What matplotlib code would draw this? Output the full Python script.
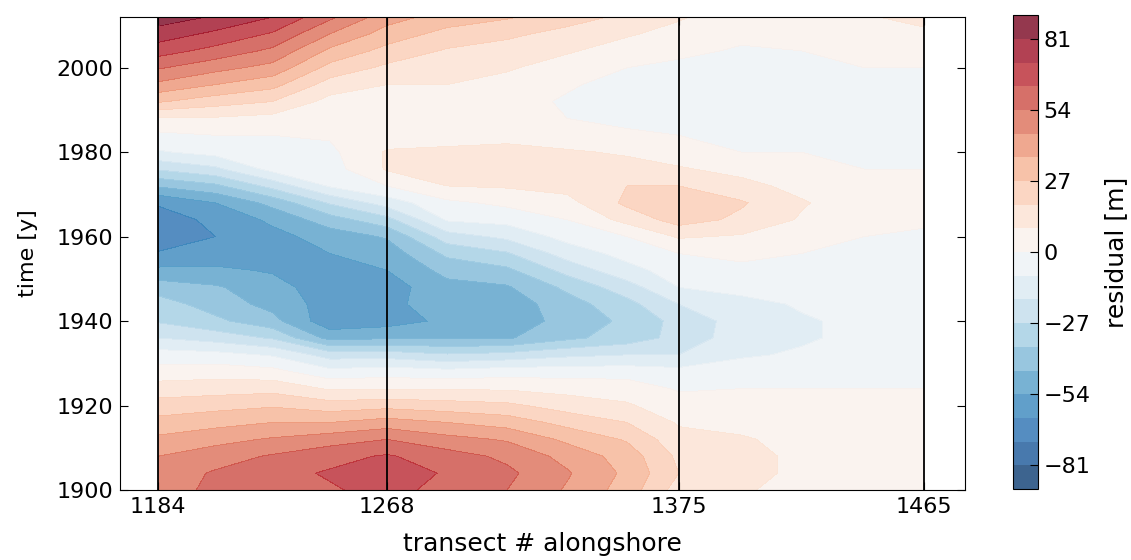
import numpy as np
import matplotlib
matplotlib.use("Agg")
import matplotlib.pyplot as plt

# transect numbers (grid columns) and years (grid rows)
transects = [1184, 1205, 1226, 1247, 1268, 1290, 1312, 1334, 1356, 1375, 1398, 1420, 1443, 1465]
years = list(range(1900, 2013, 4))
boundaries = [1184, 1268, 1375, 1465]

# residual [m] per transect, listed from 1900 to 2012 in 4-year steps
res_1184 = [50, 49, 45, 38, 30, 22, 13, 4, -5, -18, -28, -32, -40, -52, -62, -70, -67, -62, -44, -26, -10, -2, 8, 28, 43, 55, 67, 77, 86]
res_1205 = [56, 55, 50, 42, 33, 24, 14, 5, -6, -22, -34, -40, -44, -52, -60, -63, -61, -54, -38, -20, -6, 0, 8, 22, 36, 48, 60, 70, 80]
res_1226 = [60, 60, 55, 46, 36, 26, 15, 3, -10, -28, -42, -48, -50, -55, -58, -57, -52, -42, -24, -6, -3, 0, 6, 18, 30, 42, 52, 62, 72]
res_1247 = [62, 64, 60, 50, 36, 22, 8, -6, -22, -48, -60, -58, -60, -57, -54, -50, -40, -26, -8, -4, -2, 1, 2, 6, 14, 24, 34, 45, 56]
res_1268 = [66, 68, 64, 54, 40, 24, 8, -4, -22, -46, -58, -56, -58, -54, -50, -44, -30, -14, 0, 10, 10, 4, 2, 4, 9, 16, 24, 32, 40]
res_1290 = [60, 62, 58, 48, 36, 22, 8, -6, -26, -46, -52, -50, -48, -42, -34, -22, -8, -2, 9, 12, 11, 5, 2, 4, 9, 12, 17, 24, 32]
res_1312 = [54, 56, 52, 44, 32, 20, 8, -4, -24, -46, -50, -50, -46, -38, -28, -16, -6, 2, 10, 12, 12, 6, 3, 3, 6, 10, 14, 20, 28]
res_1334 = [44, 46, 42, 34, 24, 14, 6, -4, -20, -38, -42, -40, -34, -24, -14, -6, 0, 6, 12, 12, 10, 4, 0, -1, 1, 5, 10, 15, 22]
res_1356 = [32, 34, 32, 26, 18, 10, 5, -4, -18, -32, -34, -30, -22, -12, -6, 0, 12, 20, 18, 12, 8, 2, -3, -4, -3, 0, 5, 10, 16]
res_1375 = [14, 18, 16, 12, 8, 4, -1, -6, -18, -24, -24, -18, -9, -5, 0, 10, 22, 24, 18, 10, 4, 0, -3, -4, -4, -2, 2, 6, 10]
res_1398 = [10, 12, 12, 10, 6, 3, 0, -5, -10, -13, -14, -12, -6, -2, 2, 8, 16, 19, 12, 6, 0, -2, -3, -3, -3, -3, -1, 2, 4]
res_1420 = [6, 7, 7, 6, 4, 2, 0, -4, -8, -10, -10, -8, -4, -2, 0, 4, 8, 10, 6, 3, 0, -2, -3, -3, -3, -2, 0, 2, 4]
res_1443 = [4, 5, 5, 4, 2, 1, 0, -3, -5, -7, -7, -5, -3, -2, -1, 0, 2, 3, 2, 0, -1, -2, -2, -2, -2, 0, 2, 5, 8]
res_1465 = [3, 4, 4, 3, 2, 1, 0, -2, -4, -5, -5, -4, -3, -2, -2, -1, 1, 1, 1, 0, -1, -2, -2, -2, -2, 0, 3, 7, 12]

columns = [res_1184, res_1205, res_1226, res_1247, res_1268, res_1290, res_1312,
           res_1334, res_1356, res_1375, res_1398, res_1420, res_1443, res_1465]
Z = np.array(columns, dtype=float).T  # rows: years, cols: transects

levels = np.arange(-90, 91, 9)
cbar_ticks = [-81, -54, -27, 0, 27, 54, 81]

plt.rcParams["font.family"] = "DejaVu Sans"
plt.rcParams["font.size"] = 16

fig = plt.figure(figsize=(11.31, 5.6), dpi=100)
ax = fig.add_axes([0.1061, 0.125, 0.7471, 0.8446])
cax = fig.add_axes([0.8957, 0.1268, 0.0221, 0.846])

cs = ax.contourf(transects, years, Z, levels=levels, cmap="RdBu_r", alpha=0.8)
for b in boundaries:
    ax.axvline(b, color="black", linewidth=1.3)

ax.set_xlim(1170, 1480)
ax.set_ylim(1900, 2012)
ax.set_xticks(boundaries)
ax.set_yticks([1900, 1920, 1940, 1960, 1980, 2000])
ax.tick_params(direction="in", top=True, right=True, length=6, labelsize=16, pad=5)
ax.set_xlabel("transect # alongshore", fontsize=18, labelpad=11)
ax.set_ylabel("time [y]", fontsize=16, labelpad=13)

cb = fig.colorbar(cs, cax=cax, ticks=cbar_ticks)
cb.ax.tick_params(direction="in", length=6, labelsize=16, pad=4)
cb.set_label("residual [m]", fontsize=18, labelpad=10)

fig.savefig("out.png", dpi=100)
